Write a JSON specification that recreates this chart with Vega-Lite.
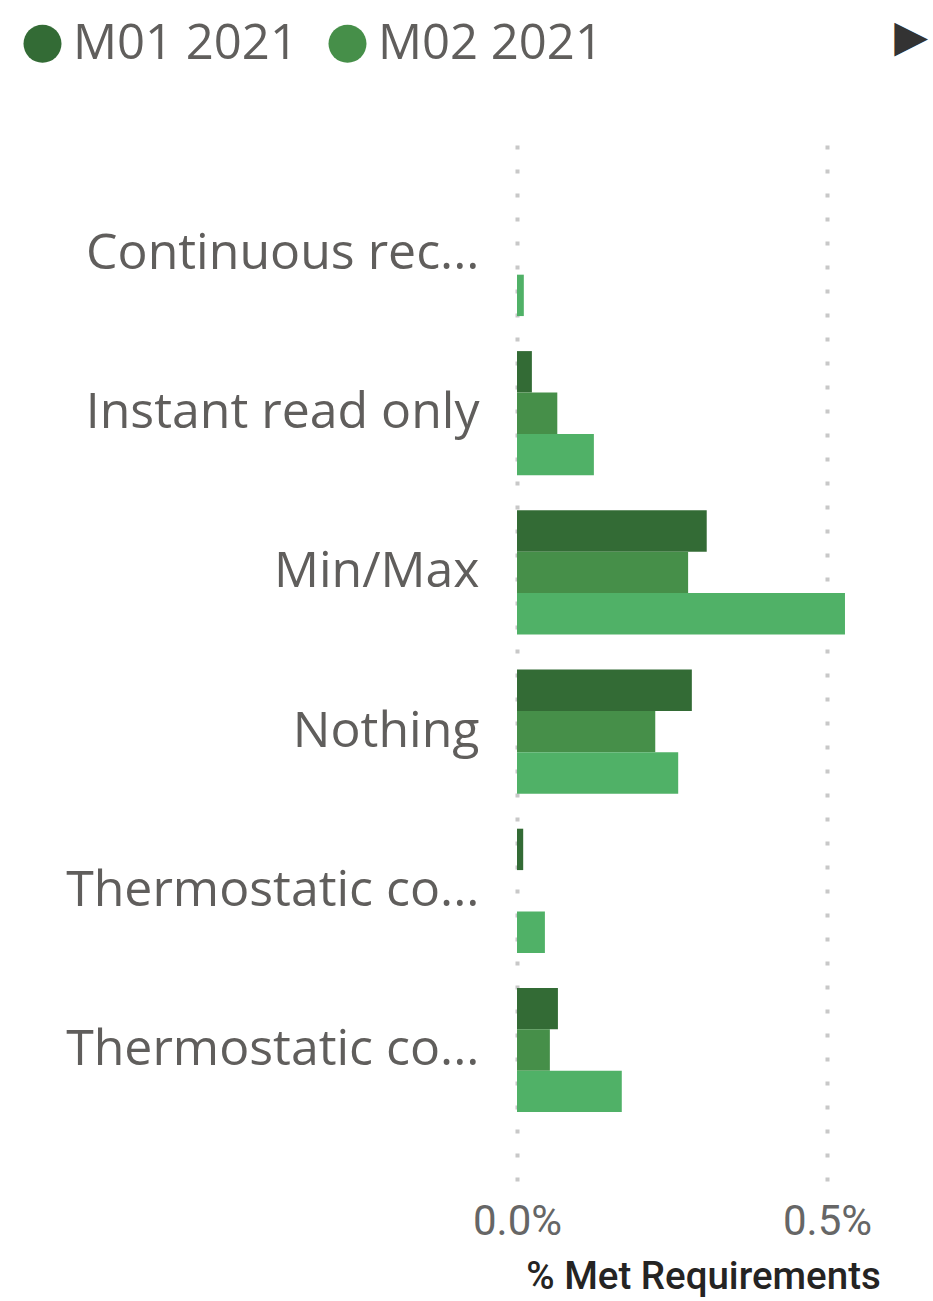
{
  "$schema": "https://vega.github.io/schema/vega-lite/v6.json",
  "width": 372,
  "height": 1038,
  "autosize": {"type": "none"},
  "padding": {"left": 517, "top": 143, "right": 44, "bottom": 120},
  "background": "white",
  "title": {
    "text": "▶",
    "anchor": "end",
    "frame": "group",
    "font": "DejaVu Sans",
    "fontSize": 44,
    "fontWeight": "normal",
    "color": "#333333",
    "dx": 39,
    "dy": 41,
    "offset": 0
  },
  "data": {
    "values": [
      {"category": "Continuous recording", "period": "M03 2021", "value": 0.00011},
      {"category": "Instant read only", "period": "M01 2021", "value": 0.00024},
      {"category": "Instant read only", "period": "M02 2021", "value": 0.00065},
      {"category": "Instant read only", "period": "M03 2021", "value": 0.00124},
      {"category": "Min/Max", "period": "M01 2021", "value": 0.00306},
      {"category": "Min/Max", "period": "M02 2021", "value": 0.00276},
      {"category": "Min/Max", "period": "M03 2021", "value": 0.00529},
      {"category": "Nothing", "period": "M01 2021", "value": 0.00282},
      {"category": "Nothing", "period": "M02 2021", "value": 0.00223},
      {"category": "Nothing", "period": "M03 2021", "value": 0.0026},
      {"category": "Thermostatic control only", "period": "M01 2021", "value": 0.0001},
      {"category": "Thermostatic control only", "period": "M03 2021", "value": 0.00045},
      {"category": "Thermostatic control with min/max", "period": "M01 2021", "value": 0.00066},
      {"category": "Thermostatic control with min/max", "period": "M02 2021", "value": 0.00053},
      {"category": "Thermostatic control with min/max", "period": "M03 2021", "value": 0.00169}
    ]
  },
  "mark": {"type": "bar"},
  "encoding": {
    "y": {
      "field": "category",
      "type": "nominal",
      "sort": ["Continuous recording", "Instant read only", "Min/Max", "Nothing", "Thermostatic control only", "Thermostatic control with min/max"],
      "scale": {
        "domain": ["Continuous recording", "Instant read only", "Min/Max", "Nothing", "Thermostatic control only", "Thermostatic control with min/max"],
        "paddingInner": 0.22,
        "paddingOuter": 0.37,
        "align": 0.415
      },
      "axis": {
        "title": null,
        "domain": false,
        "ticks": false,
        "grid": false,
        "labelFont": "Open Sans",
        "labelFontSize": 50,
        "labelColor": "#605E5C",
        "labelPadding": 38,
        "labelLimit": 800,
        "labelExpr": "indexof(datum.value, 'Thermostatic') == 0 ? 'Thermostatic co...' : indexof(datum.value, 'Continuous') == 0 ? 'Continuous rec...' : datum.value"
      }
    },
    "yOffset": {
      "field": "period",
      "type": "nominal",
      "sort": ["M01 2021", "M02 2021", "M03 2021"],
      "scale": {"domain": ["M01 2021", "M02 2021", "M03 2021"], "paddingInner": 0, "paddingOuter": 0}
    },
    "x": {
      "field": "value",
      "type": "quantitative",
      "scale": {"domain": [0, 0.006], "nice": false, "zero": true},
      "axis": {
        "values": [0, 0.005],
        "format": ".1%",
        "domain": false,
        "ticks": false,
        "grid": true,
        "gridDash": [4, 20],
        "gridWidth": 4,
        "gridColor": "#C8C8C8",
        "labelFlush": false,
        "labelFont": "Roboto",
        "labelFontSize": 42,
        "labelColor": "#666666",
        "labelPadding": 20,
        "title": "% Met Requirements",
        "titleFont": "Roboto",
        "titleFontSize": 38.5,
        "titleFontWeight": 500,
        "titleColor": "#252423",
        "titlePadding": 16
      }
    },
    "color": {
      "field": "period",
      "type": "nominal",
      "scale": {"domain": ["M01 2021", "M02 2021", "M03 2021"], "range": ["#336B35", "#468F49", "#50B167"]},
      "legend": {
        "values": ["M01 2021", "M02 2021"],
        "orient": "none",
        "legendX": -499,
        "legendY": -124,
        "padding": 0,
        "direction": "horizontal",
        "title": null,
        "symbolType": "circle",
        "symbolSize": 1444,
        "symbolStrokeWidth": 0,
        "labelFont": "Open Sans",
        "labelFontSize": 49,
        "labelColor": "#605E5C",
        "labelOffset": 6,
        "columnPadding": 25,
        "labelLimit": 600
      }
    }
  },
  "config": {"view": {"stroke": null}}
}
